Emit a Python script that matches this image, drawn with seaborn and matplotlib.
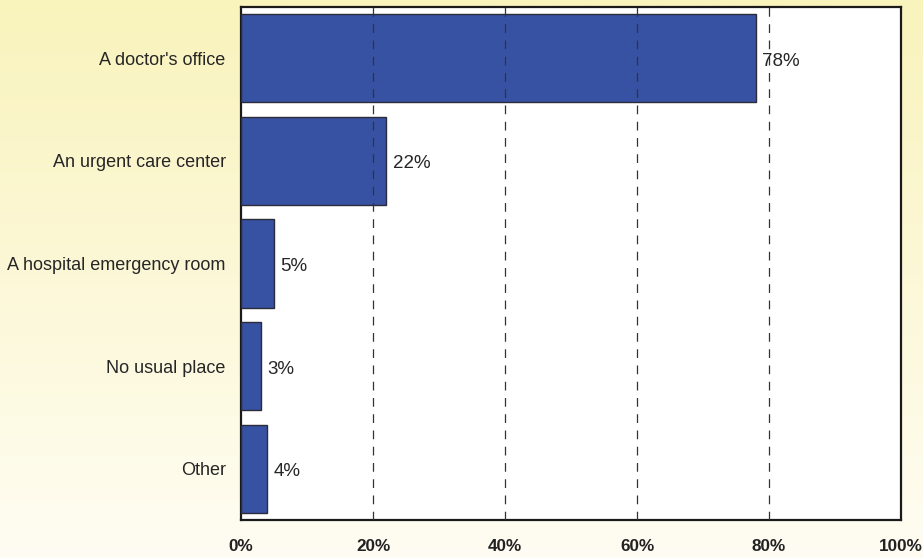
import numpy as np
import pandas as pd
import matplotlib
matplotlib.use("Agg")
import matplotlib.pyplot as plt
import seaborn as sns
from matplotlib.colors import LinearSegmentedColormap

categories = ["A doctor's office", "An urgent care center", "A hospital emergency room",
              "No usual place", "Other"]
values = [78, 22, 5, 3, 4]
x_ticks = [0, 20, 40, 60, 80, 100]
x_tick_labels = ["0%", "20%", "40%", "60%", "80%", "100%"]

sns.set_theme(style="white")
plt.rcParams["font.family"] = ["Liberation Sans", "DejaVu Sans"]

fig = plt.figure(figsize=(9.23, 5.58), dpi=100)

# soft yellow backdrop fading toward the bottom
bg = fig.add_axes([0, 0, 1, 1], zorder=-10)
cmap = LinearSegmentedColormap.from_list("bg", ["#f9f3bc", "#fffdf3"])
bg.imshow(np.linspace(0, 1, 256).reshape(-1, 1), aspect="auto", cmap=cmap,
          extent=[0, 1, 0, 1])
bg.set_axis_off()

ax = fig.add_axes([0.2611, 0.0681, 0.7151, 0.9194])
ax.set_facecolor("white")

df = pd.DataFrame({"place": categories, "pct": values})
sns.barplot(data=df, x="pct", y="place", orient="h", color="#3852a3",
            saturation=1, width=0.86, edgecolor="#2b2b3a", linewidth=1.0,
            ax=ax, zorder=3)

ax.set_xlim(0, 100)
ax.set_ylim(len(categories) - 0.5, -0.5)
ax.set_xticks(x_ticks)
ax.set_xticklabels(x_tick_labels, fontsize=12.3, fontweight="bold", color="#222222")
ax.tick_params(axis="x", length=0, pad=14)
ax.tick_params(axis="y", length=0, pad=11, labelsize=13, labelcolor="#262626")
ax.set_xlabel("")
ax.set_ylabel("")

for xv in x_ticks[1:-1]:
    ax.axvline(xv, color="#333333", linewidth=0.9, linestyle=(0, (7, 6)), zorder=4)

for i, v in enumerate(values):
    ax.text(v + 1.0, i + 0.03, f"{v}%", va="center", ha="left", fontsize=13.5,
            color="#262626", zorder=5)

for s in ax.spines.values():
    s.set_visible(True)
    s.set_color("#1a1a1a")
    s.set_linewidth(1.6)

fig.savefig("out.png", dpi=100)
